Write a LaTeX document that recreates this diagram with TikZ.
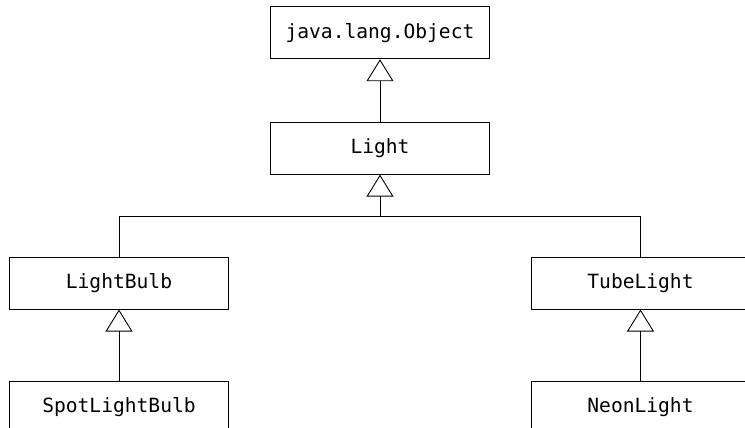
\documentclass[tikz,border=0pt]{standalone}
\usepackage{fontspec}
\setmonofont{DejaVu Sans Mono}
\usepackage{tikz}
\usetikzlibrary{
  positioning,
  arrows.meta
}

\begin{document}
\begin{tikzpicture}[
  x=1pt, y=1pt,
  cls/.style     = {draw, line width=0.9pt, minimum width=219pt,
                    minimum height=52pt, inner sep=0pt, align=center,
                    font=\ttfamily\fontsize{19.6}{23}\selectfont},
  inherit/.style = {-{Triangle[open, width=27pt, length=22pt]},
                    line width=0.9pt},
  branch/.style  = {line width=0.9pt}
]
  \useasboundingbox (0,0) rectangle (745,428);

  % Root and base class
  \node[cls] (obj) at (380,395.2) {java.lang.Object};
  \node[cls, below=62.5pt of obj] (light) {Light};

  % Subclasses of Light
  \node[cls, below=82pt of light, xshift=-261pt] (bulb) {LightBulb};
  \node[cls, below=82pt of light, xshift=260.5pt] (tube) {TubeLight};

  % Leaf classes
  \node[cls, below=71pt of bulb] (spot) {SpotLightBulb};
  \node[cls, below=71pt of tube] (neon) {NeonLight};

  % Generalisation arrows
  \draw[inherit] (light.north) -- (obj.south);

  \coordinate[below=41.5pt of light.south] (join);
  \draw[branch] (bulb.north) |- (join);
  \draw[branch] (tube.north) |- (join);
  \draw[inherit] (join) -- (light.south);

  \draw[inherit] (spot.north) -- (bulb.south);
  \draw[inherit] (neon.north) -- (tube.south);

\end{tikzpicture}
\end{document}
